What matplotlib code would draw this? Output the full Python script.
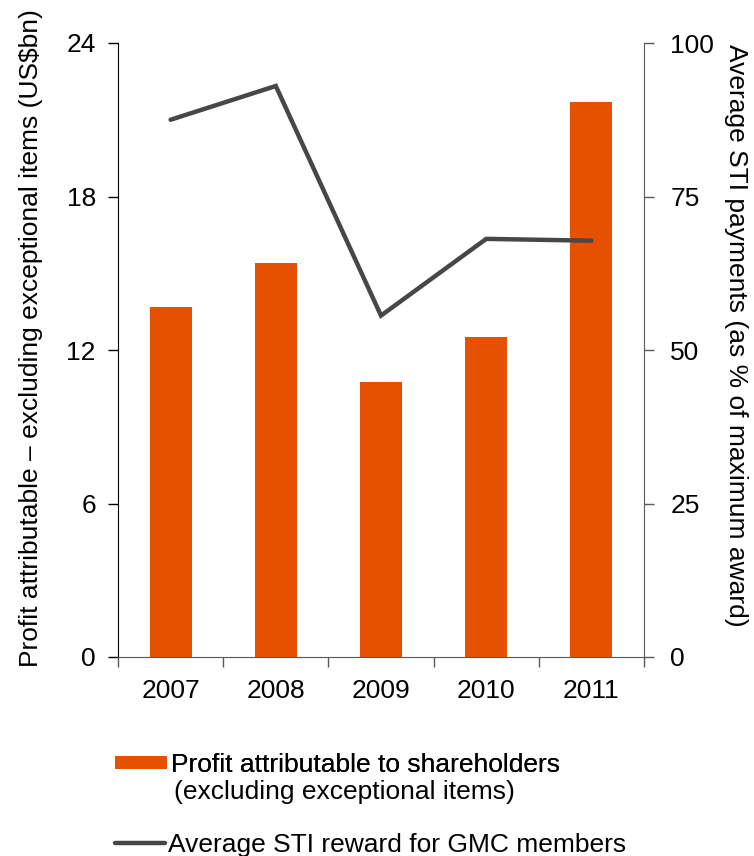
import matplotlib
matplotlib.use("Agg")
import matplotlib.pyplot as plt
import numpy as np

plt.rcParams['font.family'] = ['Liberation Sans', 'DejaVu Sans']

years = ["2007", "2008", "2009", "2010", "2011"]
profit = [13.7, 15.4, 10.75, 12.5, 21.7]
sti = [87.5, 93.0, 55.6, 68.1, 67.8]

left_ticks = [0, 6, 12, 18, 24]
right_ticks = [0, 25, 50, 75, 100]

BAR = '#E65100'
LINE = '#474747'
FS = 19

fig = plt.figure(figsize=(7.54, 8.56), dpi=100)
ax = fig.add_axes([118/754, 1-657/856, (644-118)/754, (657-43)/856])
x = np.arange(len(years))
bars = ax.bar(x, profit, width=0.4, color=BAR, label="Profit attributable to shareholders", zorder=2)
ax.set_ylim(0, 24)
ax.set_xlim(-0.5, len(years) - 0.5)
ax.set_yticks(left_ticks)
ax.set_yticklabels([str(t) for t in left_ticks])
ax.set_xticks(np.arange(-0.5, len(years), 1.0))
ax.set_xticklabels([])
ax.set_xticks(x, minor=True)
ax.set_xticklabels(years, minor=True)
ax.tick_params(axis='x', which='minor', length=0, pad=15.5, labelsize=FS)
ax.tick_params(axis='x', which='major', length=7, width=1, color='#595959', direction='out')
ax.tick_params(axis='y', length=7, width=1, pad=9, labelsize=FS, direction='out')
ax.spines['top'].set_visible(False)
ax.spines['right'].set_visible(False)
ax.spines['left'].set_color('black')
ax.spines['bottom'].set_color('#595959')
ax.set_ylabel("Profit attributable \u2013 excluding exceptional items (US$bn)", fontsize=FS)
ax.yaxis.set_label_coords(-0.1433, 0.519)

ax2 = ax.twinx()
line, = ax2.plot(x, sti, color=LINE, lw=3.2, solid_capstyle='round', solid_joinstyle='miter',
                 label="Average STI reward for GMC members", zorder=3)
ax2.set_ylim(0, 100)
ax2.set_yticks(right_ticks)
ax2.set_yticklabels([str(t) for t in right_ticks])
ax2.tick_params(axis='y', length=7, width=1, pad=12, labelsize=FS, color='#595959', direction='out')
for s in ['top', 'left', 'bottom']:
    ax2.spines[s].set_visible(False)
ax2.spines['right'].set_color('#595959')
ax2.set_ylabel("Average STI payments (as % of maximum award)", fontsize=FS, rotation=270)
ax2.yaxis.set_label_coords(1.198, 0.5245)

leg1 = fig.legend(handles=[bars], labels=["Profit attributable to shareholders"],
                  loc='center left', bbox_to_anchor=(115/754, 1-765/856), frameon=False,
                  fontsize=FS, handlelength=1.97, handleheight=0.42, handletextpad=0.15,
                  borderpad=0, borderaxespad=0)
fig.text(174/754, 1-799/856, "(excluding exceptional items)", fontsize=FS, va='baseline', ha='left')
leg2 = fig.legend(handles=[line], labels=["Average STI reward for GMC members"],
                  loc='center left', bbox_to_anchor=(115/754, 1-845/856), frameon=False,
                  fontsize=FS, handlelength=1.9, handletextpad=0.1,
                  borderpad=0, borderaxespad=0)
fig.add_artist(leg1)

fig.savefig("out.png", dpi=100)
